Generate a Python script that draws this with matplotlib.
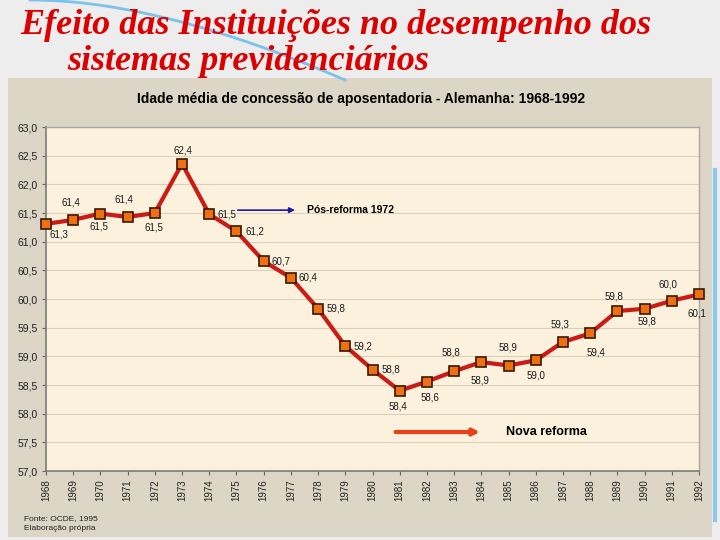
import numpy as np
import matplotlib
matplotlib.use('Agg')
import matplotlib.pyplot as plt
from matplotlib.ticker import FuncFormatter, MultipleLocator

# dados
anos = list(range(1968, 1993))
idade = [61.31, 61.38, 61.49, 61.43, 61.50, 62.36, 61.48, 61.18, 60.66, 60.37,
         59.83, 59.18, 58.77, 58.40, 58.56, 58.74, 58.90, 58.84, 58.93, 59.25,
         59.40, 59.79, 59.83, 59.97, 60.08]
rotulos = ['61,3', '61,4', '61,5', '61,4', '61,5', '62,4', '61,5', '61,2', '60,7', '60,4',
           '59,8', '59,2', '58,8', '58,4', '58,6', '58,8', '58,9', '58,9', '59,0', '59,3',
           '59,4', '59,8', '59,8', '60,0', '60,1']

titulo1 = 'Efeito das Instituições no desempenho dos'
titulo2 = 'sistemas previdenciários'
titulo_grafico = 'Idade média de concessão de aposentadoria - Alemanha: 1968-1992'

# deslocamento dos rotulos (pixels, y para baixo)
desloc = [(13, 11), (-2, -17), (-1, 13), (-4, -18), (-1, 14), (1, -13), (18, 0), (18, 0),
          (17, 0), (17, 0), (18, 0), (18, 0), (18, 0), (-2, 16), (3, 16), (-3, -19),
          (-1, 18), (-1, -18), (0, 15), (-3, -18), (6, 19), (-3, -15), (2, 13), (-4, -16),
          (-2, 19)]

W, H = 720, 540
fig = plt.figure(figsize=(7.2, 5.4), dpi=100)
fig.patch.set_facecolor('#ededed')

def px(x, y):
    return x / W, 1 - y / H

# painel bege
painel = plt.Rectangle(px(8, 537), 704 / W, 459 / H, transform=fig.transFigure,
                       facecolor='#ddd5c5', edgecolor='none', zorder=0)
fig.patches.append(painel)

# decoracao azul do slide
t = np.linspace(0, 1, 60)
xs = 30 * (1 - t) ** 2 + 2 * t * (1 - t) * 160 + t ** 2 * 345
ys = 0 * (1 - t) ** 2 + 2 * t * (1 - t) * 0 + t ** 2 * 80
fig.add_artist(plt.Line2D(xs / W, 1 - ys / H, transform=fig.transFigure,
                          color='#7cc2ea', lw=2, zorder=1))
fig.add_artist(plt.Line2D([715 / W, 715 / W], [1 - 170 / H, 1 - 520 / H],
                          transform=fig.transFigure, color='#8cc8ea', lw=3, zorder=1))

fig.text(20 / W, 1 - 25 / H, titulo1, ha='left', va='center', family='Liberation Serif',
         style='italic', weight='bold', fontsize=26, color='#dd0000', zorder=5)
fig.text(67 / W, 1 - 62 / H, titulo2, ha='left', va='center', family='Liberation Serif',
         style='italic', weight='bold', fontsize=26, color='#dd0000', zorder=5)

fig.text(361 / W, 1 - 99 / H, titulo_grafico, ha='center', va='center',
         family='Liberation Sans', weight='bold', fontsize=10, color='black', zorder=5)

ax = fig.add_axes([46 / W, 1 - 471 / H, 653 / W, 344 / H])
ax.set_zorder(3)
ax.set_facecolor('#fbf1dc')
ax.plot(anos, idade, color='#cc1a14', lw=3, marker='s', markersize=7,
        markerfacecolor='#f07010', markeredgecolor='#3a1800', markeredgewidth=1.2,
        clip_on=False, zorder=3)

for a, v, r, (dx, dy) in zip(anos, idade, rotulos, desloc):
    ax.annotate(r, (a, v), xytext=(dx * 0.72, -dy * 0.72), textcoords='offset points',
                ha='center', va='center', fontsize=7, family='Liberation Sans',
                color='#1a1a1a')

ax.set_xlim(1968, 1992)
ax.set_ylim(57.0, 63.0)
ax.yaxis.set_major_locator(MultipleLocator(0.5))
ax.yaxis.set_major_formatter(FuncFormatter(lambda v, p: f'{v:.1f}'.replace('.', ',')))
ax.set_xticks(anos)
ax.set_xticklabels([str(a) for a in anos], rotation=90, fontsize=7,
                   family='Liberation Sans', color='#222222')
for lb in ax.get_yticklabels():
    lb.set_fontsize(7.5)
    lb.set_family('Liberation Sans')
    lb.set_color('#222222')
ax.tick_params(axis='both', length=3, width=0.8, color='#666666', pad=3)
ax.grid(axis='y', color='#d9cfbb', lw=0.8)
ax.set_axisbelow(True)
for s in ['left', 'bottom']:
    ax.spines[s].set_color('#7a7a7a')
    ax.spines[s].set_linewidth(1.2)
for s in ['top', 'right']:
    ax.spines[s].set_color('#a8a8a8')
    ax.spines[s].set_linewidth(1.0)

# setas e textos das reformas
ax.annotate('', xy=(1977.15, 61.55), xytext=(1975.05, 61.55),
            arrowprops=dict(arrowstyle='-|>', color='#1a1a9c', lw=1.2,
                            mutation_scale=8, shrinkA=0, shrinkB=0))
ax.text(1977.6, 61.55, 'Pós-reforma 1972', ha='left', va='center', fontsize=7.5,
        weight='bold', family='Liberation Sans', color='black')

ax.annotate('', xy=(1983.95, 57.68), xytext=(1980.85, 57.68),
            arrowprops=dict(arrowstyle='-|>', color='#e8401a', lw=3,
                            mutation_scale=9, shrinkA=0, shrinkB=0))
ax.text(1984.9, 57.68, 'Nova reforma', ha='left', va='center', fontsize=9,
        weight='bold', family='Liberation Sans', color='black')

fig.text(24 / W, 1 - 519 / H, 'Fonte: OCDE, 1995', ha='left', va='center',
         fontsize=6, family='Liberation Sans', color='#222222', zorder=5)
fig.text(24 / W, 1 - 529 / H, 'Elaboração própria', ha='left', va='center',
         fontsize=6, family='Liberation Sans', color='#222222', zorder=5)

fig.savefig('out.png', dpi=100, facecolor=fig.get_facecolor())
